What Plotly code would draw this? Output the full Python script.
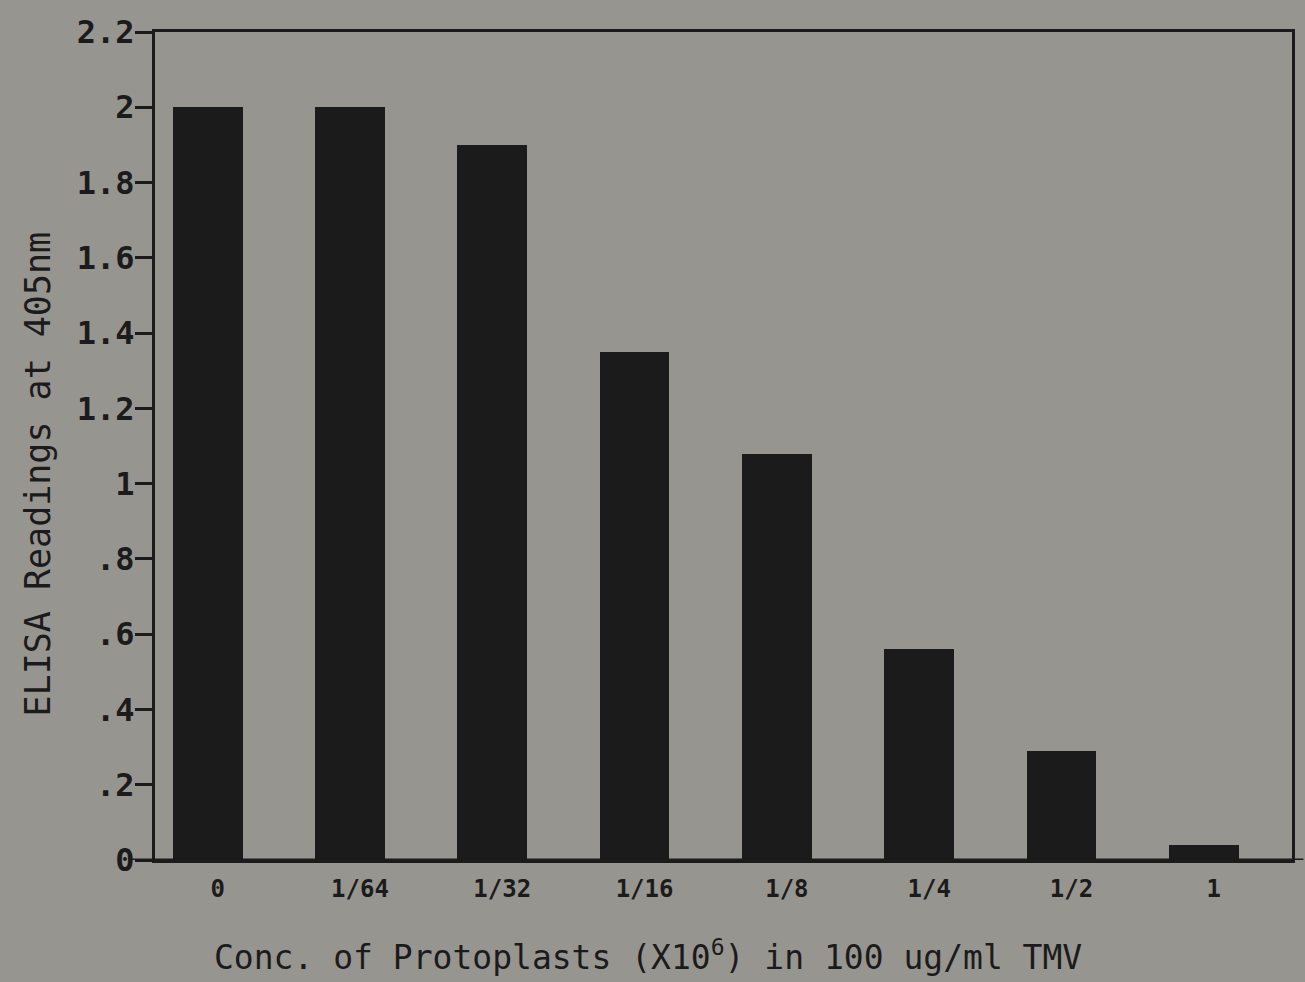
import plotly.graph_objects as go

# Data
categories = ["0", "1/64", "1/32", "1/16", "1/8", "1/4", "1/2", "1"]
elisa_405 = [2.0, 2.0, 1.90, 1.35, 1.08, 0.56, 0.29, 0.04]

y_tick_vals = [0, 0.2, 0.4, 0.6, 0.8, 1.0, 1.2, 1.4, 1.6, 1.8, 2.0, 2.2]
y_tick_text = ["0", ".2", ".4", ".6", ".8", "1", "1.2", "1.4", "1.6", "1.8", "2", "2.2"]

x_title = "Conc. of Protoplasts (X10<sup>6</sup>) in 100 ug/ml TMV"
y_title = "ELISA Readings at 405nm"

BG = "#979590"
INK = "#1b1b1b"
MONO = "DejaVu Sans Mono"

fig = go.Figure()
fig.add_trace(go.Bar(
    x=categories,
    y=elisa_405,
    width=0.49,
    marker=dict(color=INK, line=dict(width=0)),
    showlegend=False,
))

fig.update_layout(
    width=1305,
    height=982,
    margin=dict(l=155, r=10, t=32, b=122, pad=0),
    paper_bgcolor=BG,
    plot_bgcolor=BG,
    font=dict(family=MONO, color=INK),
    bargap=0,
)

fig.update_xaxes(
    type="category",
    range=[-0.37, 7.62],
    showline=True,
    linecolor=INK,
    linewidth=3,
    mirror=True,
    ticks="",
    showgrid=False,
    zeroline=False,
    tickfont=dict(family=MONO, size=24, color=INK, weight="bold"),
    ticklabelshift=10,
    ticklabelstandoff=5,
)

fig.update_yaxes(
    range=[0, 2.2],
    tickvals=y_tick_vals,
    ticktext=y_tick_text,
    showline=True,
    linecolor=INK,
    linewidth=3,
    mirror=True,
    ticks="outside",
    ticklen=17,
    tickwidth=3,
    tickcolor=INK,
    showgrid=False,
    zeroline=False,
    tickfont=dict(family=MONO, size=32, color=INK, weight="bold"),
    ticklabelstandoff=-6,
)

# baseline extends slightly past both frame edges, as in the reference
fig.add_shape(type="line", xref="paper", yref="y",
              x0=-0.022, x1=1.01, y0=0, y1=0,
              line=dict(color=INK, width=3))

fig.add_annotation(
    text=x_title, xref="paper", yref="paper",
    x=0.434, y=-0.115, xanchor="center", yanchor="middle",
    showarrow=False,
    font=dict(family=MONO, size=33, color=INK),
)
fig.add_annotation(
    text=y_title, xref="paper", yref="paper",
    x=-0.1026, y=0.466, xanchor="center", yanchor="middle",
    textangle=-90, showarrow=False,
    font=dict(family=MONO, size=35, color=INK),
)

fig.write_html("out.html")
